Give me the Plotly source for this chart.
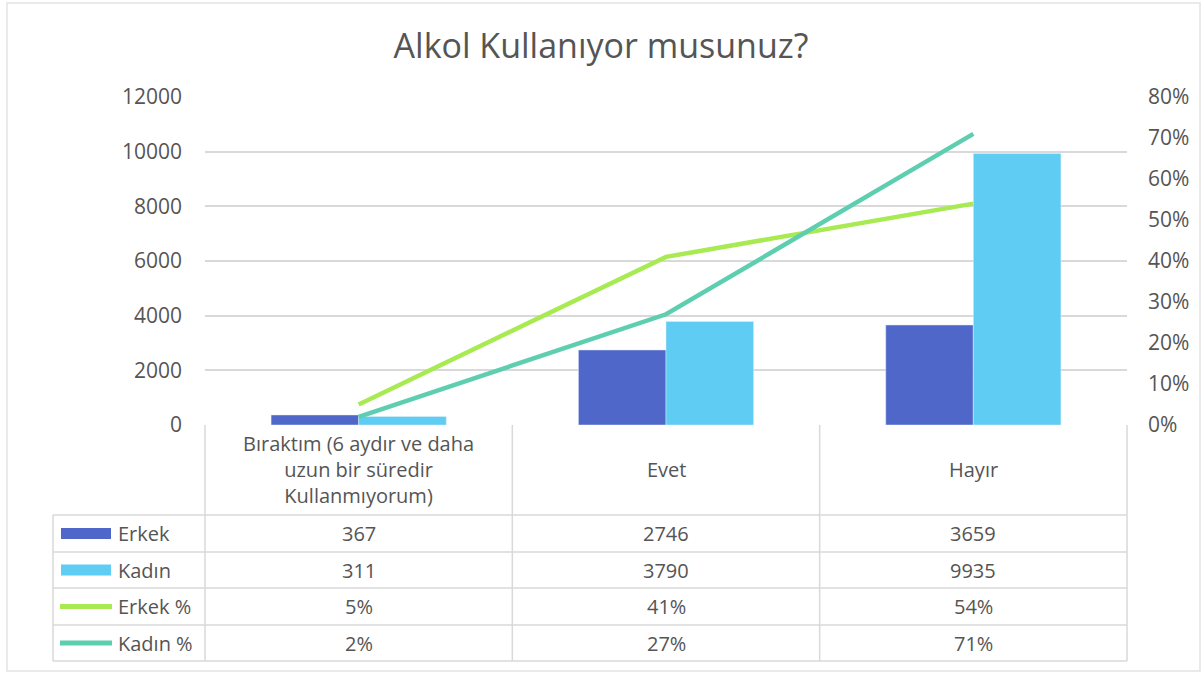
import plotly.graph_objects as go

# ---- data ----
categories = ["Bıraktım (6 aydır ve daha<br>uzun bir süredir<br>Kullanmıyorum)", "Evet", "Hayır"]
cat_keys = ["Bıraktım", "Evet", "Hayır"]
erkek = [367, 2746, 3659]
kadin = [311, 3790, 9935]
erkek_pct = [0.05, 0.41, 0.54]
kadin_pct = [0.02, 0.27, 0.71]
series_names = ["Erkek", "Kadın", "Erkek %", "Kadın %"]
left_ticks = [0, 2000, 4000, 6000, 8000, 10000, 12000]
right_ticks = [0, 0.1, 0.2, 0.3, 0.4, 0.5, 0.6, 0.7, 0.8]

C_ERKEK = "#4E67C8"
C_KADIN = "#5ECCF3"
C_ERKEK_P = "#A7EA52"
C_KADIN_P = "#5DCEAF"
TXT = "#555555"
GRID = "#D9D9D9"
FONT = "Open Sans"

W, H = 1202, 674
PL, PR, PT, PB = 205, 1127, 97, 425


def fx(px):
    return (px - PL) / (PR - PL)


def fy(py):
    return (PB - py) / (PB - PT)


fig = go.Figure()
fig.add_trace(go.Bar(x=cat_keys, y=erkek, name=series_names[0], marker_color=C_ERKEK))
fig.add_trace(go.Bar(x=cat_keys, y=kadin, name=series_names[1], marker_color=C_KADIN))
fig.add_trace(go.Scatter(x=cat_keys, y=erkek_pct, name=series_names[2], yaxis="y2",
                         mode="lines", line=dict(color=C_ERKEK_P, width=4.5)))
fig.add_trace(go.Scatter(x=cat_keys, y=kadin_pct, name=series_names[3], yaxis="y2",
                         mode="lines", line=dict(color=C_KADIN_P, width=4.5)))

shapes = []
annotations = []

# frame
shapes.append(dict(type="rect", xref="paper", yref="paper", x0=fx(7), x1=fx(1200), y0=fy(671), y1=fy(3),
                   line=dict(color="#E3E3E3", width=1.5), fillcolor="rgba(0,0,0,0)", layer="below"))

# table geometry
col_edges = [PL + i * (PR - PL) / 3 for i in range(4)]
row_edges = [515, 552, 588, 625, 661]
leg_left = 53

line_style = dict(color=GRID, width=1.5)
# verticals
shapes.append(dict(type="line", xref="paper", yref="paper", x0=fx(leg_left), x1=fx(leg_left),
                   y0=fy(row_edges[0]), y1=fy(row_edges[-1]), line=line_style))
for xe in col_edges:
    shapes.append(dict(type="line", xref="paper", yref="paper", x0=fx(xe), x1=fx(xe),
                       y0=fy(PB), y1=fy(row_edges[-1]), line=line_style))
# horizontals
for ye in row_edges:
    shapes.append(dict(type="line", xref="paper", yref="paper", x0=fx(leg_left), x1=fx(PR),
                       y0=fy(ye), y1=fy(ye), line=line_style))

# header labels
for i, lab in enumerate(categories):
    cx = (col_edges[i] + col_edges[i + 1]) / 2
    annotations.append(dict(xref="paper", yref="paper", x=fx(cx), y=fy(469), text=lab,
                            showarrow=False, xanchor="center", yanchor="middle",
                            font=dict(family=FONT, size=20, color=TXT)))

# rows
row_vals = [
    [str(v) for v in erkek],
    [str(v) for v in kadin],
    [f"{round(v * 100)}%" for v in erkek_pct],
    [f"{round(v * 100)}%" for v in kadin_pct],
]
row_colors = [C_ERKEK, C_KADIN, C_ERKEK_P, C_KADIN_P]
for r in range(4):
    cy = (row_edges[r] + row_edges[r + 1]) / 2
    # legend key
    if r < 2:
        shapes.append(dict(type="rect", xref="paper", yref="paper", x0=fx(61), x1=fx(111),
                           y0=fy(cy + 5.5), y1=fy(cy - 5.5), line=dict(width=0),
                           fillcolor=row_colors[r]))
    else:
        shapes.append(dict(type="line", xref="paper", yref="paper", x0=fx(60), x1=fx(112),
                           y0=fy(cy), y1=fy(cy), line=dict(color=row_colors[r], width=5)))
    annotations.append(dict(xref="paper", yref="paper", x=fx(116), y=fy(cy), text=series_names[r],
                            showarrow=False, xanchor="left", yanchor="middle",
                            font=dict(family=FONT, size=20, color=TXT)))
    for i in range(3):
        cx = (col_edges[i] + col_edges[i + 1]) / 2
        annotations.append(dict(xref="paper", yref="paper", x=fx(cx), y=fy(cy), text=row_vals[r][i],
                                showarrow=False, xanchor="center", yanchor="middle",
                                font=dict(family=FONT, size=20, color=TXT)))

fig.update_layout(
    width=W, height=H,
    margin=dict(l=PL, r=W - PR, t=PT, b=H - PB, pad=0),
    paper_bgcolor="white", plot_bgcolor="white",
    font=dict(family=FONT, color=TXT),
    title=dict(text="Alkol Kullanıyor musunuz?", x=0.5, xref="container", xanchor="center",
               y=1 - 46 / H, yref="container", yanchor="middle",
               font=dict(family=FONT, size=34, color=TXT)),
    showlegend=False,
    barmode="group", bargap=0.43, bargroupgap=0,
    xaxis=dict(showticklabels=False, showgrid=False, zeroline=False, showline=False, ticks="",
               range=[-0.5, 2.5]),
    yaxis=dict(range=[0, 12000], tickvals=left_ticks, tickformat="d", showgrid=True, gridcolor=GRID,
               gridwidth=1.5, zeroline=False, showline=False, ticks="", ticklabelstandoff=22,
               tickfont=dict(family=FONT, size=21, color=TXT)),
    yaxis2=dict(range=[0, 0.8], tickvals=right_ticks, tickformat=".0%", overlaying="y", side="right",
                showgrid=False, zeroline=False, showline=False, ticks="", ticklabelstandoff=20,
                tickfont=dict(family=FONT, size=21, color=TXT)),
    shapes=shapes,
    annotations=annotations,
)

fig.write_html("out.html", config={"displayModeBar": False},
               post_script="document.body.style.margin='0';document.body.style.overflow='hidden';")
